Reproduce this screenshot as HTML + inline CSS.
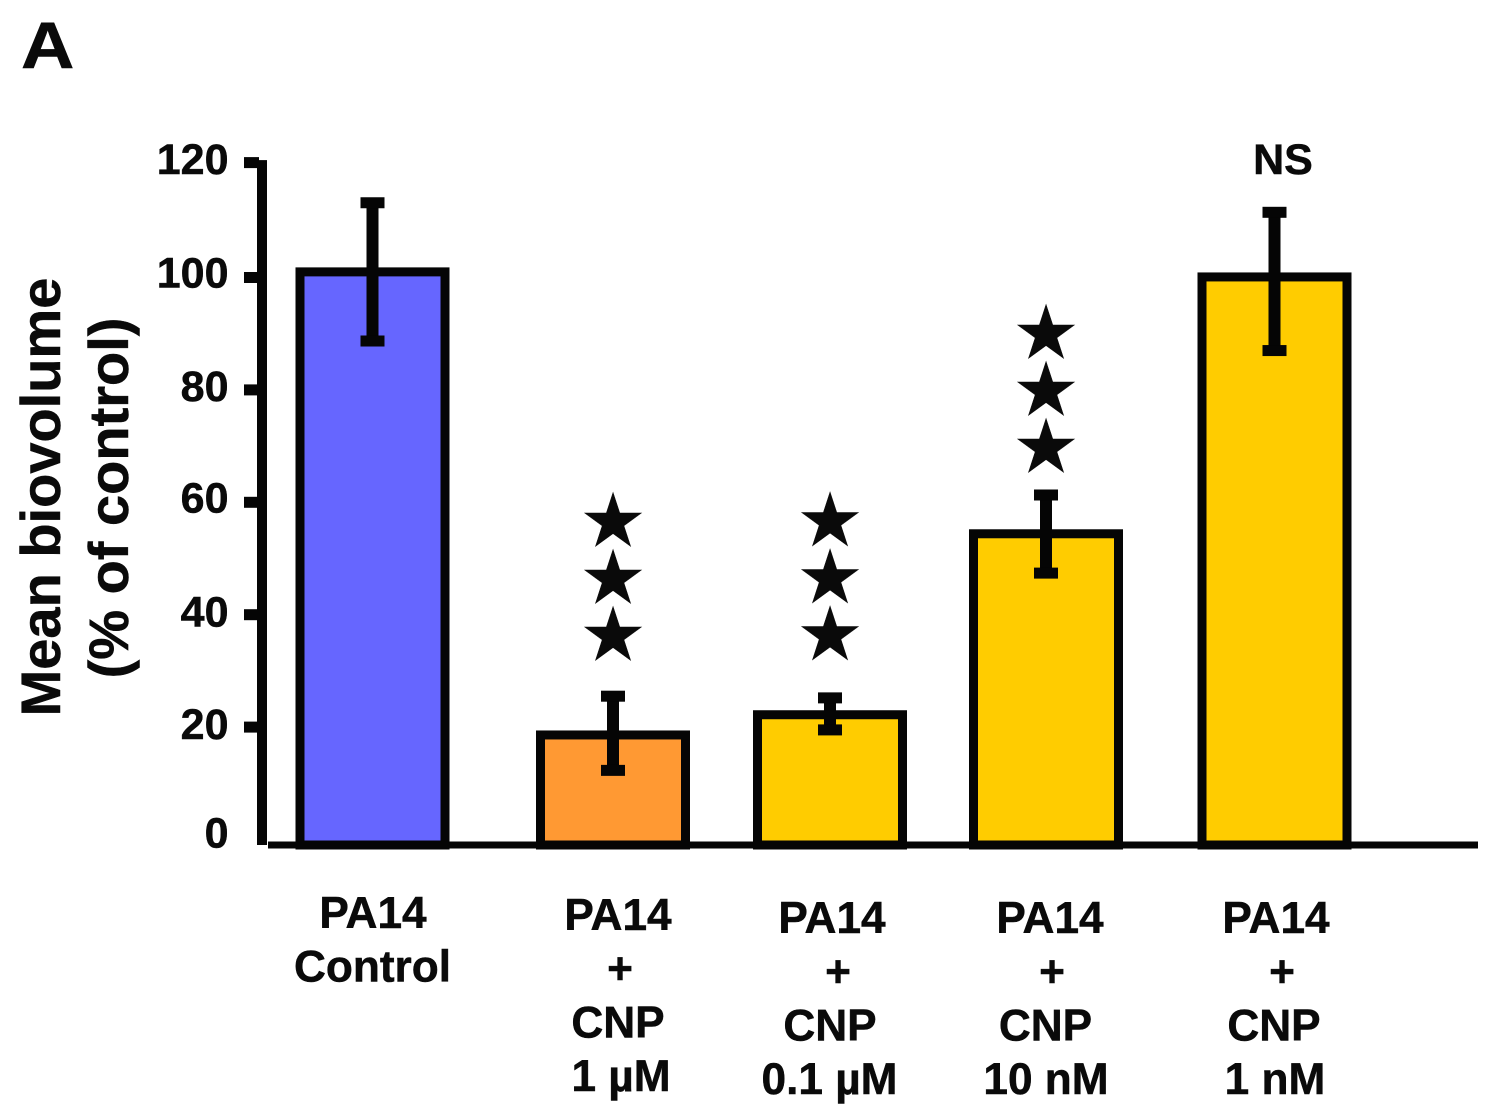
<!DOCTYPE html>
<html lang="en">
<head>
<meta charset="utf-8">
<title>Mean biovolume chart</title>
<style>
html,body{margin:0;padding:0;background:#fff;}
svg{display:block;}
text{font-family:"Liberation Sans",Arial,sans-serif;font-weight:bold;fill:#0a0a0a;stroke:#0a0a0a;stroke-width:0.5px;}
</style>
</head>
<body>
<svg id="chart" xmlns="http://www.w3.org/2000/svg" width="1497" height="1119" viewBox="0 0 1497 1119">
  <text transform="translate(21,68) scale(1.12,1)" font-size="66">A</text>
  <text transform="translate(60,497) rotate(-90)" text-anchor="middle" font-size="56">Mean biovolume</text>
  <text transform="translate(128,498) rotate(-90)" text-anchor="middle" font-size="56">(% of control)</text>
</svg>
<script>
const categories = [
  ["PA14", "Control"],
  ["PA14", "+", "CNP", "1 µM"],
  ["PA14", "+", "CNP", "0.1 µM"],
  ["PA14", "+", "CNP", "10 nM"],
  ["PA14", "+", "CNP", "1 nM"]
];
const barNames = ["control", "cnp-1-um", "cnp-0-1-um", "cnp-10-nm", "cnp-1-nm"];
const means = [101, 18.6, 22.2, 54.4, 100.1];
const errUpper = [113.3, 25.5, 25.2, 61.3, 111.6];
const errLower = [88.7, 12.3, 19.5, 47.4, 87];
const significance = ["", "***", "***", "***", "NS"];
const starLevels = [0, 31.9, 32, 65.4, 0];
const colors = ["#6666ff", "#ff9933", "#ffcc00", "#ffcc00", "#ffcc00"];
const yTicks = [0, 20, 40, 60, 80, 100, 120];

const NS = "http://www.w3.org/2000/svg";
const svg = document.getElementById("chart");
const baselineY = 845;
const barCenters = [372.5, 613, 830, 1046, 1274.5];
const labelCenters = [
  [373, 372.5],
  [618, 620, 618, 621],
  [832, 838, 830, 829.5],
  [1050, 1052, 1045.5, 1046],
  [1276, 1282, 1274, 1275]
];
const labelFirstLine = [928, 930, 933, 933, 933];
const tickLabelNudge = {0: -5, 20: -1, 40: -1, 60: -3, 80: -2, 100: -3, 120: -4};

function y(v) { return 839.5 - 5.62 * v; }
function x(i) { return barCenters[i]; }

function rect(name, px, py, w, h, fill) {
  const r = document.createElementNS(NS, "rect");
  r.setAttribute("x", px);
  r.setAttribute("y", py);
  r.setAttribute("width", w);
  r.setAttribute("height", h);
  r.setAttribute("fill", fill);
  
  
  svg.appendChild(r);
  return r;
}
function label(name, str, px, py, size, anchor) {
  const t = document.createElementNS(NS, "text");
  t.setAttribute("x", px);
  t.setAttribute("y", py);
  t.setAttribute("font-size", size);
  t.setAttribute("text-anchor", anchor);
  
  
  t.textContent = str;
  svg.appendChild(t);
  return t;
}

/* bars */
means.forEach(function (m, i) {
  const top = y(m);
  const bar = document.createElementNS(NS, "rect");
  bar.setAttribute("x", x(i) - 72.5);
  bar.setAttribute("y", top);
  bar.setAttribute("width", 145);
  bar.setAttribute("height", baselineY - top);
  bar.setAttribute("fill", colors[i]);
  bar.setAttribute("stroke", "#050505");
  bar.setAttribute("stroke-width", 9);
  
  
  svg.appendChild(bar);
});

/* axes */
rect("y-axis-line", 257, y(120) - 5, 10, baselineY - y(120) + 5, "#050505");
rect("x-axis-line", 268, baselineY - 3.5, 1210, 7, "#050505");

/* y ticks */
yTicks.forEach(function (v) {
  if (v !== 0) {
    rect("y-tick-" + v, 244, y(v) - (v === 120 ? 8 : 5.5), 15, 11, "#050505");
  }
  label("y-tick-label-" + v, String(v), 228.5, y(v) + 13 + tickLabelNudge[v], 43, "end");
});

/* error bars */
means.forEach(function (m, i) {
  const cx = x(i);
  const hi = y(errUpper[i]);
  const lo = y(errLower[i]);
  rect("error-stem-" + barNames[i], cx - 6, hi, 12, lo - hi, "#050505");
  rect("error-cap-top-" + barNames[i], cx - 12, hi - 5.5, 24, 11, "#050505");
  rect("error-cap-bottom-" + barNames[i], cx - 12, lo - 5.5, 24, 11, "#050505");
});

/* significance markers */
significance.forEach(function (s, i) {
  if (s === "NS") {
    label("significance-ns", "NS", 1283, 174, 43, "middle");
  } else if (s) {
    const base = y(starLevels[i]);
    for (let k = 0; k < s.length; k++) {
      const star = label("significance-star-" + barNames[i] + "-" + (k + 1), "★", x(i), base - k * 57, 74, "middle");
      star.setAttribute("style", 'font-family:"DejaVu Sans",sans-serif;font-weight:normal;');
    }
  }
});

/* category labels */
categories.forEach(function (lines, i) {
  lines.forEach(function (line, k) {
    label("x-label-" + barNames[i] + "-line-" + (k + 1), line, labelCenters[i][k], labelFirstLine[i] + k * 53.7, 44.2, "middle");
  });
});
</script>
</body>
</html>
